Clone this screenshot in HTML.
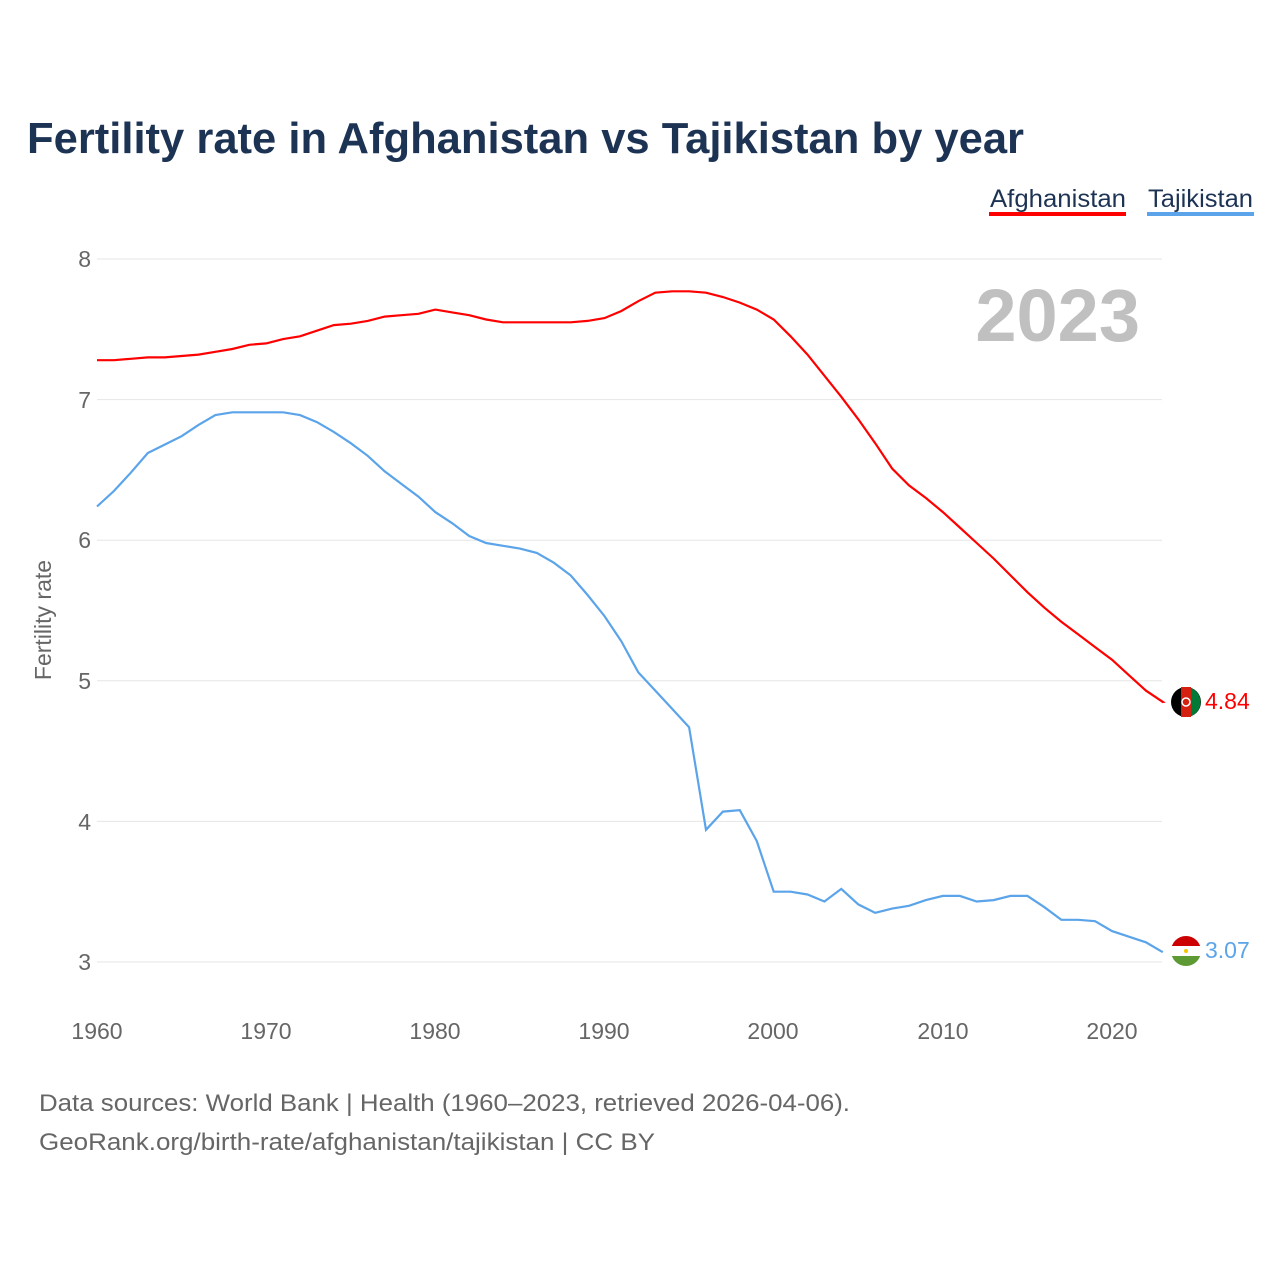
<!DOCTYPE html>
<html><head><meta charset="utf-8">
<style>
body{margin:0;background:#fff;}
svg{display:block;font-family:"Liberation Sans",sans-serif;}
</style></head>
<body>
<svg id="s" width="1280" height="1280" viewBox="0 0 1280 1280">
<rect width="1280" height="1280" fill="#fff"/>
<text x="27" y="153" font-size="44" font-weight="bold" fill="#1d3354" textLength="997" lengthAdjust="spacingAndGlyphs">Fertility rate in Afghanistan vs Tajikistan by year</text>
<text x="990" y="207" font-size="25" fill="#1d3354" textLength="136" lengthAdjust="spacingAndGlyphs">Afghanistan</text>
<rect x="989" y="212" width="137" height="4" fill="#ff0000"/>
<text x="1148" y="207" font-size="25" fill="#1d3354" textLength="105" lengthAdjust="spacingAndGlyphs">Tajikistan</text>
<rect x="1147" y="212" width="107" height="4" fill="#5ba4ea"/>
<g stroke="#e6e6e6" stroke-width="1">
<line x1="97" x2="1162" y1="259" y2="259"/><line x1="97" x2="1162" y1="399.6" y2="399.6"/>
<line x1="97" x2="1162" y1="540.2" y2="540.2"/><line x1="97" x2="1162" y1="680.8" y2="680.8"/>
<line x1="97" x2="1162" y1="821.4" y2="821.4"/><line x1="97" x2="1162" y1="962" y2="962"/>
</g>
<g font-size="23" fill="#666" text-anchor="end">
<text x="91" y="267">8</text><text x="91" y="408">7</text><text x="91" y="548">6</text>
<text x="91" y="689">5</text><text x="91" y="830">4</text><text x="91" y="970">3</text>
</g>
<g font-size="23" fill="#666" text-anchor="middle">
<text x="97" y="1039">1960</text><text x="266" y="1039">1970</text><text x="435" y="1039">1980</text>
<text x="604" y="1039">1990</text><text x="773" y="1039">2000</text><text x="943" y="1039">2010</text><text x="1112" y="1039">2020</text>
</g>
<text transform="translate(51,620) rotate(-90)" font-size="23" fill="#666" text-anchor="middle">Fertility rate</text>
<text x="1140" y="341" font-size="74" font-weight="bold" fill="#c0c0c0" text-anchor="end">2023</text>
<polyline id="af" fill="none" stroke="#ff0000" stroke-width="2.2"/>
<polyline id="tj" fill="none" stroke="#5ba4ea" stroke-width="2.2"/>
<g>
<circle cx="1186" cy="702" r="15" fill="#000"/>
<path d="M1181 687 h10 v30 h-10z" fill="#d32011"/>
<path d="M1191 688 A15 15 0 0 1 1191 716 z" fill="#007a36"/>
<circle cx="1186" cy="702" r="4" fill="none" stroke="#fff" stroke-width="1.5"/>
</g>
<text x="1205" y="709" font-size="23" fill="#ff0000">4.84</text>
<g>
<clipPath id="c"><circle cx="1186" cy="951" r="15"/></clipPath>
<g clip-path="url(#c)">
<rect x="1170" y="935" width="32" height="11" fill="#cc0000"/>
<rect x="1170" y="946" width="32" height="10" fill="#fff"/>
<rect x="1170" y="956" width="32" height="11" fill="#5e9a33"/>
<circle cx="1186" cy="951" r="2" fill="#f8c300"/>
</g>
</g>
<text x="1205" y="958" font-size="23" fill="#5ba4ea">3.07</text>
<text x="39" y="1111" font-size="24" fill="#666" textLength="811" lengthAdjust="spacingAndGlyphs">Data sources: World Bank | Health (1960–2023, retrieved 2026-04-06).</text>
<text x="39" y="1150" font-size="24" fill="#666" textLength="616" lengthAdjust="spacingAndGlyphs">GeoRank.org/birth-rate/afghanistan/tajikistan | CC BY</text>
</svg>
<script>
var af=[7.28,7.28,7.29,7.30,7.30,7.31,7.32,7.34,7.36,7.39,7.40,7.43,7.45,7.49,7.53,7.54,7.56,7.59,7.60,7.61,7.64,7.62,7.60,7.57,7.55,7.55,7.55,7.55,7.55,7.56,7.58,7.63,7.70,7.76,7.77,7.77,7.76,7.73,7.69,7.64,7.57,7.45,7.32,7.17,7.02,6.86,6.69,6.51,6.39,6.30,6.20,6.09,5.98,5.87,5.75,5.63,5.52,5.42,5.33,5.24,5.15,5.04,4.93,4.85];
var tj=[6.24,6.35,6.48,6.62,6.68,6.74,6.82,6.89,6.91,6.91,6.91,6.91,6.89,6.84,6.77,6.69,6.60,6.49,6.40,6.31,6.20,6.12,6.03,5.98,5.96,5.94,5.91,5.84,5.75,5.61,5.46,5.28,5.06,4.93,4.80,4.67,3.94,4.07,4.08,3.86,3.50,3.50,3.48,3.43,3.52,3.41,3.35,3.38,3.40,3.44,3.47,3.47,3.43,3.44,3.47,3.47,3.39,3.30,3.30,3.29,3.22,3.18,3.14,3.07];
function pts(a){return a.map(function(v,i){return (97+i*16.917).toFixed(1)+","+(962-(v-3)*140.6).toFixed(1)}).join(" ");}
document.getElementById("af").setAttribute("points",pts(af)+" 1162,702");
document.getElementById("tj").setAttribute("points",pts(tj));
</script>
</body></html>
